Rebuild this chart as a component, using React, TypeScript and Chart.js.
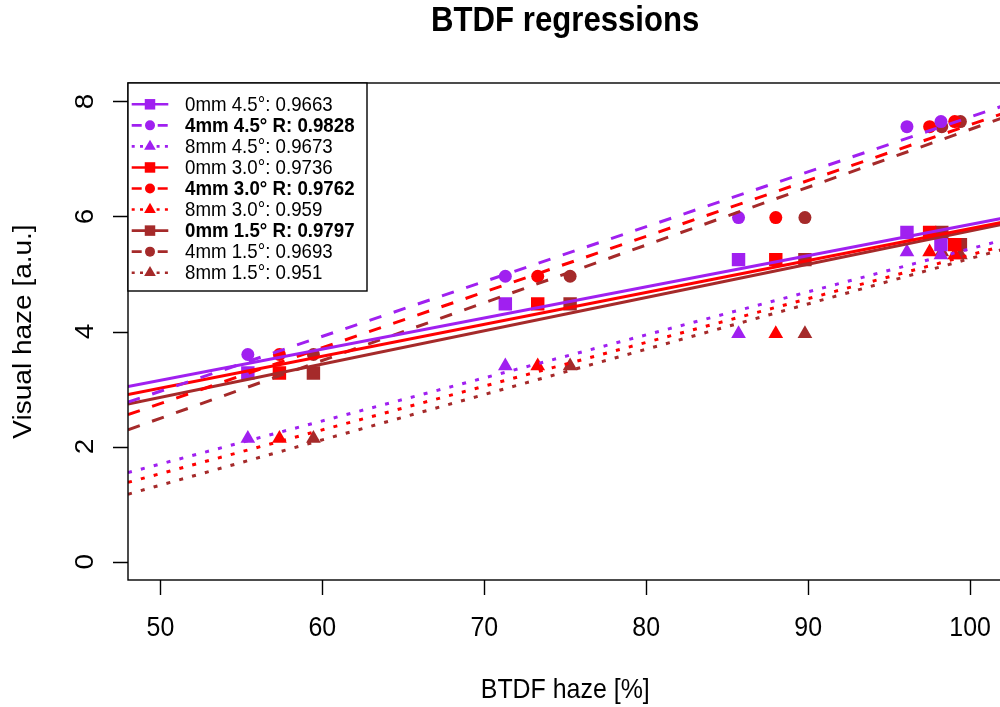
import React, { useEffect, useRef } from 'react';
import { Chart, registerables } from 'chart.js';

Chart.register(...registerables);

// BTDF haze [%] per angle (x values)
const xAngle45 = [55.4, 71.3, 85.7, 96.1, 98.2];
const xAngle30 = [57.35, 73.3, 88.0, 97.5, 99.05];
const xAngle15 = [59.45, 75.3, 89.8, 98.25, 99.4];

// Visual haze [a.u.] per thickness (y values)
const y0mm = [3.28, 4.48, 5.25, 5.72, 5.51];
const y4mm = [3.6, 4.96, 5.98, 7.56, 7.65];
const y8mm = [2.14, 3.4, 3.96, 5.38, 5.33];

const legendLabels = [
  '0mm 4.5°: 0.9663',
  '4mm 4.5° R: 0.9828',
  '8mm 4.5°: 0.9673',
  '0mm 3.0°: 0.9736',
  '4mm 3.0° R: 0.9762',
  '8mm 3.0°: 0.959',
  '0mm 1.5° R: 0.9797',
  '4mm 1.5°: 0.9693',
  '8mm 1.5°: 0.951',
];
const legendBold = [false, true, false, false, true, false, true, false, false];

const xTicks = [50, 60, 70, 80, 90, 100];
const yTicks = [0, 2, 4, 6, 8];

const PURPLE = '#A020F0';
const RED = '#FF0000';
const BROWN = '#A52A2A';

const X_MIN = 48;
const X_MAX = 102;
const Y_MIN = -0.32;
const Y_MAX = 8.32;

const FONT = '"Liberation Sans", Arial, Helvetica, sans-serif';
const SX = 0.89; // horizontal squeeze of text seen in the reference

type Style = 'rect' | 'circle' | 'triangle';
interface Series {
  xs: number[];
  ys: number[];
  color: string;
  style: Style;
  dash: number[];
  legendDash: number[];
  radius: number;
}

const SOLID: number[] = [];
const DASHED = [12.5, 13];
const DOTTED = [4, 9.3];
const L_DASHED = [10, 16];
const L_DOTTED = [3, 5.3];

const seriesList: Series[] = [
  { xs: xAngle45, ys: y0mm, color: PURPLE, style: 'rect', dash: SOLID, legendDash: SOLID, radius: 9.5 },
  { xs: xAngle45, ys: y4mm, color: PURPLE, style: 'circle', dash: DASHED, legendDash: L_DASHED, radius: 6.5 },
  { xs: xAngle45, ys: y8mm, color: PURPLE, style: 'triangle', dash: DOTTED, legendDash: L_DOTTED, radius: 8.5 },
  { xs: xAngle30, ys: y0mm, color: RED, style: 'rect', dash: SOLID, legendDash: SOLID, radius: 9.5 },
  { xs: xAngle30, ys: y4mm, color: RED, style: 'circle', dash: DASHED, legendDash: L_DASHED, radius: 6.5 },
  { xs: xAngle30, ys: y8mm, color: RED, style: 'triangle', dash: DOTTED, legendDash: L_DOTTED, radius: 8.5 },
  { xs: xAngle15, ys: y0mm, color: BROWN, style: 'rect', dash: SOLID, legendDash: SOLID, radius: 9.5 },
  { xs: xAngle15, ys: y4mm, color: BROWN, style: 'circle', dash: DASHED, legendDash: L_DASHED, radius: 6.5 },
  { xs: xAngle15, ys: y8mm, color: BROWN, style: 'triangle', dash: DOTTED, legendDash: L_DOTTED, radius: 8.5 },
];

function linFit(xs: number[], ys: number[]) {
  const n = xs.length;
  const mx = xs.reduce((a, b) => a + b, 0) / n;
  const my = ys.reduce((a, b) => a + b, 0) / n;
  let sxy = 0;
  let sxx = 0;
  for (let i = 0; i < n; i++) {
    sxy += (xs[i] - mx) * (ys[i] - my);
    sxx += (xs[i] - mx) * (xs[i] - mx);
  }
  const b = sxy / sxx;
  return { a: my - b * mx, b };
}

function drawMarker(ctx: CanvasRenderingContext2D, style: Style, x: number, y: number, size: number) {
  ctx.beginPath();
  if (style === 'rect') {
    ctx.rect(x - size / 2, y - size / 2, size, size);
  } else if (style === 'circle') {
    ctx.arc(x, y, size / 2, 0, Math.PI * 2);
  } else {
    const r = size / 2 + 1.5;
    ctx.moveTo(x, y - r);
    ctx.lineTo(x + r * 0.866, y + r * 0.5);
    ctx.lineTo(x - r * 0.866, y + r * 0.5);
    ctx.closePath();
  }
  ctx.fill();
}

function drawText(
  ctx: CanvasRenderingContext2D,
  text: string,
  x: number,
  y: number,
  font: string,
  align: CanvasTextAlign,
  rotated = false
) {
  ctx.save();
  ctx.translate(x, y);
  ctx.scale(SX, 1);
  if (rotated) ctx.rotate(-Math.PI / 2);
  ctx.font = font;
  ctx.textAlign = align;
  ctx.textBaseline = 'middle';
  ctx.fillStyle = '#000';
  ctx.fillText(text, 0, 0);
  ctx.restore();
}

const decorPlugin = {
  id: 'rDecor',
  afterDraw(chart: any) {
    const { ctx, chartArea: a, scales } = chart;
    const xs = scales.x;
    const ys = scales.y;
    ctx.save();
    // box
    ctx.strokeStyle = '#000';
    ctx.lineWidth = 1.4;
    ctx.setLineDash([]);
    ctx.strokeRect(a.left, a.top, a.right - a.left, a.bottom - a.top);
    // tick marks
    ctx.beginPath();
    xTicks.forEach((v) => {
      const px = Math.round(xs.getPixelForValue(v)) + 0.5;
      ctx.moveTo(px, a.bottom);
      ctx.lineTo(px, a.bottom + 15);
    });
    yTicks.forEach((v) => {
      const py = Math.round(ys.getPixelForValue(v)) + 0.5;
      ctx.moveTo(a.left - 15, py);
      ctx.lineTo(a.left, py);
    });
    ctx.stroke();

    // tick labels
    const axisFont = `28px ${FONT}`;
    xTicks.forEach((v) => drawText(ctx, String(v), xs.getPixelForValue(v), 628, axisFont, 'center'));
    yTicks.forEach((v) => drawText(ctx, String(v), 86, ys.getPixelForValue(v), axisFont, 'center', true));

    // axis titles
    const cx = (a.left + a.right) / 2;
    drawText(ctx, 'BTDF haze [%]', cx, 690, axisFont, 'center');
    drawText(ctx, 'Visual haze [a.u.]', 24, (a.top + a.bottom) / 2, axisFont, 'center', true);

    // main title
    drawText(ctx, 'BTDF regressions', cx, 21, `bold 35px ${FONT}`, 'center');

    // legend
    const lx0 = a.left;
    const ly0 = a.top;
    const lw = 239;
    const lh = 208;
    ctx.fillStyle = '#fff';
    ctx.fillRect(lx0, ly0, lw, lh);
    ctx.strokeStyle = '#000';
    ctx.lineWidth = 1.4;
    ctx.strokeRect(lx0, ly0, lw, lh);
    seriesList.forEach((s, i) => {
      const y = ly0 + 21.3 + i * 21.05;
      ctx.save();
      ctx.strokeStyle = s.color;
      ctx.lineWidth = 2.6;
      ctx.setLineDash(s.legendDash);
      ctx.beginPath();
      ctx.moveTo(lx0 + 3.7, y);
      ctx.lineTo(lx0 + 40.3, y);
      ctx.stroke();
      ctx.setLineDash([]);
      ctx.fillStyle = s.color;
      drawMarker(ctx, s.style, lx0 + 22, y, s.style === 'circle' ? 10 : 10.5);
      ctx.restore();
      drawText(
        ctx,
        legendLabels[i],
        lx0 + 57,
        y + 1,
        `${legendBold[i] ? 'bold ' : ''}21px ${FONT}`,
        'left'
      );
    });
    ctx.restore();
  },
};

export default function App() {
  const canvasRef = useRef<HTMLCanvasElement | null>(null);

  useEffect(() => {
    const canvas = canvasRef.current;
    if (!canvas) return;

    const lineSets = seriesList.map((s) => {
      const { a, b } = linFit(s.xs, s.ys);
      return {
        type: 'line' as const,
        data: [
          { x: X_MIN, y: a + b * X_MIN },
          { x: X_MAX, y: a + b * X_MAX },
        ],
        borderColor: s.color,
        borderWidth: 3,
        borderDash: s.dash,
        borderCapStyle: 'butt' as const,
        pointRadius: 0,
        showLine: true,
        fill: false,
        order: 0,
      };
    });

    const pointSets = seriesList.map((s) => ({
      type: 'scatter' as const,
      data: s.xs.map((x, i) => ({ x, y: s.ys[i] })),
      backgroundColor: s.color,
      borderColor: s.color,
      borderWidth: 0,
      pointStyle: s.style,
      pointRadius: s.radius,
      pointBorderWidth: 0,
      showLine: false,
      order: 1,
    }));

    const chart = new Chart(canvas, {
      type: 'scatter',
      data: { datasets: [...lineSets, ...pointSets] as any },
      options: {
        responsive: false,
        animation: false,
        events: [],
        devicePixelRatio: 1,
        layout: { padding: { top: 83, right: 2, left: 0, bottom: 0 } },
        plugins: {
          legend: { display: false },
          tooltip: { enabled: false },
          title: { display: false },
        },
        scales: {
          x: {
            type: 'linear',
            min: X_MIN,
            max: X_MAX,
            grid: { display: false },
            border: { display: false },
            ticks: { display: false },
            afterFit: (scale: any) => {
              scale.height = 127;
            },
          },
          y: {
            type: 'linear',
            min: Y_MIN,
            max: Y_MAX,
            grid: { display: false },
            border: { display: false },
            ticks: { display: false },
            afterFit: (scale: any) => {
              scale.width = 128;
            },
          },
        },
      } as any,
      plugins: [decorPlugin],
    });

    return () => chart.destroy();
  }, []);

  return (
    <div
      style={{
        position: 'fixed',
        left: 0,
        top: 0,
        width: 1000,
        height: 707,
        overflow: 'hidden',
        background: '#fff',
      }}
    >
      <canvas ref={canvasRef} width={1012} height={707} style={{ width: 1012, height: 707, display: 'block' }} />
    </div>
  );
}
